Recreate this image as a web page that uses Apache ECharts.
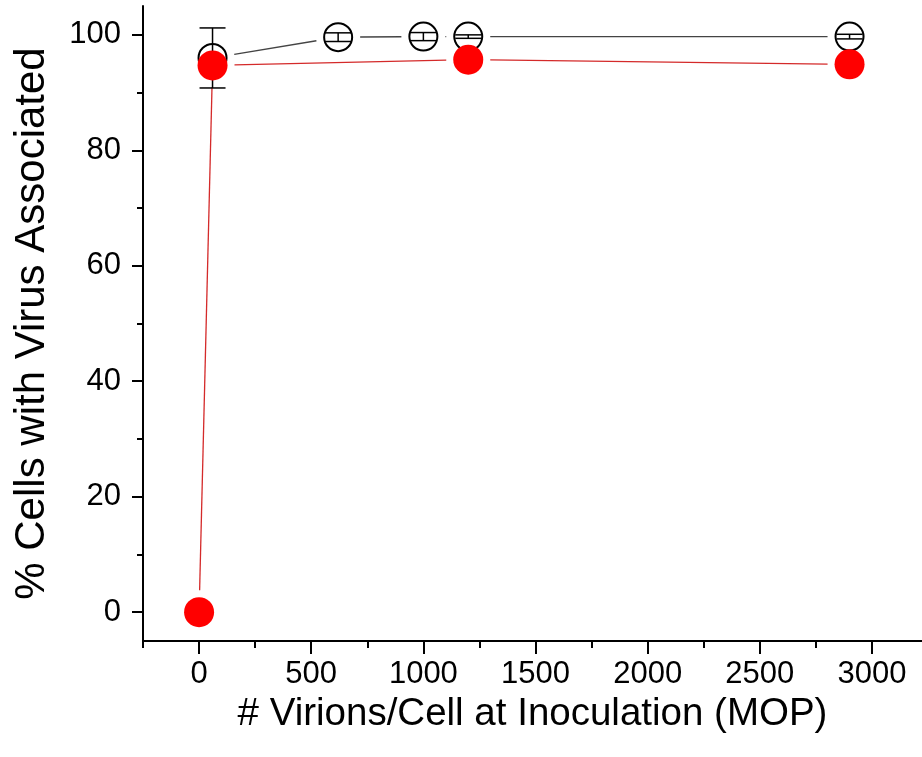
<!DOCTYPE html>
<html>
<head>
<meta charset="utf-8">
<script src="https://cdn.jsdelivr.net/npm/echarts@6/dist/echarts.min.js"></script>
<style>
html,body{margin:0;padding:0;background:#fff;}
#main{width:922px;height:757px;}
</style>
</head>
<body>
<div id="main"></div>
<script>
// ---- data ----
const openX = [60, 620, 1000, 1200, 2900];
const openY = [96.0, 99.6, 99.7, 99.7, 99.7];
const openErr = [5.2, 0.75, 0.7, 0.3, 0.4];
const redX = [0, 60, 1200, 2900];
const redY = [0, 94.7, 95.7, 94.9];
const xMajorTicks = [0, 500, 1000, 1500, 2000, 2500, 3000];
const xMinorTicks = [-250, 250, 750, 1250, 1750, 2250, 2750, 3250];
const yMajorTicks = [0, 20, 40, 60, 80, 100];
const yMinorTicks = [10, 30, 50, 70, 90];
const xTitle = '# Virions/Cell at Inoculation (MOP)';
const yTitle = '% Cells with Virus Associated';

const FONT = '"Liberation Sans", Arial, sans-serif';
const GAP = 22;

function segs(xs, ys) {
  const out = [];
  for (let i = 0; i < xs.length - 1; i++) out.push([xs[i], ys[i], xs[i + 1], ys[i + 1]]);
  return out;
}

function segRender(color) {
  return function (params, api) {
    const p1 = api.coord([api.value(0), api.value(1)]);
    const p2 = api.coord([api.value(2), api.value(3)]);
    const dx = p2[0] - p1[0], dy = p2[1] - p1[1];
    const len = Math.sqrt(dx * dx + dy * dy);
    if (len <= 2 * GAP) return null;
    const ux = dx / len, uy = dy / len;
    return {
      type: 'line',
      shape: {
        x1: p1[0] + ux * GAP, y1: p1[1] + uy * GAP,
        x2: p2[0] - ux * GAP, y2: p2[1] - uy * GAP
      },
      style: { stroke: color, lineWidth: 1.3 }
    };
  };
}

const chart = echarts.init(document.getElementById('main'), null, { renderer: 'canvas' });

const baseX = {
  type: 'value', min: -250, max: 3223, position: 'bottom',
  splitLine: { show: false }
};
const baseY = {
  type: 'value', min: -5, max: 105, position: 'left',
  splitLine: { show: false }
};
const plain = v => String(v);

chart.setOption({
  animation: false,
  backgroundColor: '#fff',
  grid: { left: 143, right: 0, top: 6, bottom: 116, containLabel: false, outerBoundsMode: 'none' },
  xAxis: [
    Object.assign({}, baseX, {
      name: xTitle, nameLocation: 'middle', nameGap: 48,
      nameTextStyle: { fontFamily: FONT, fontSize: 38.5, color: '#000' },
      axisLine: { show: true, onZero: false, lineStyle: { color: '#000', width: 2 } },
      axisTick: { show: true, inside: false, length: 13, customValues: xMajorTicks, lineStyle: { color: '#000', width: 2 } },
      axisLabel: { show: true, customValues: xMajorTicks, formatter: plain, margin: 18, fontFamily: FONT, fontSize: 31, color: '#000' }
    }),
    Object.assign({}, baseX, {
      axisLine: { show: false, onZero: false },
      axisTick: { show: true, inside: false, length: 7, customValues: xMinorTicks, lineStyle: { color: '#000', width: 2 } },
      axisLabel: { show: false }
    })
  ],
  yAxis: [
    Object.assign({}, baseY, {
      name: yTitle, nameLocation: 'middle', nameGap: 90,
      nameTextStyle: { fontFamily: FONT, fontSize: 42, color: '#000' },
      axisLine: { show: true, onZero: false, lineStyle: { color: '#000', width: 2 } },
      axisTick: { show: true, inside: false, length: 11, customValues: yMajorTicks, lineStyle: { color: '#000', width: 2 } },
      axisLabel: { show: true, customValues: yMajorTicks, formatter: plain, margin: 22, fontFamily: FONT, fontSize: 31, color: '#000' }
    }),
    Object.assign({}, baseY, {
      axisLine: { show: false, onZero: false },
      axisTick: { show: true, inside: false, length: 6, customValues: yMinorTicks, lineStyle: { color: '#000', width: 2 } },
      axisLabel: { show: false }
    })
  ],
  series: [
    {
      name: 'redLine', type: 'custom', xAxisIndex: 0, yAxisIndex: 0,
      data: segs(redX, redY),
      encode: { x: [0, 2], y: [1, 3] },
      renderItem: segRender('#d42a2a'),
      clip: false, silent: true
    },
    {
      name: 'openLine', type: 'custom', xAxisIndex: 0, yAxisIndex: 0,
      data: segs(openX, openY),
      encode: { x: [0, 2], y: [1, 3] },
      renderItem: segRender('#444'),
      clip: false, silent: true
    },
    {
      name: 'open', type: 'scatter', xAxisIndex: 0, yAxisIndex: 0,
      data: openX.map((x, i) => [x, openY[i]]),
      symbol: 'circle', symbolSize: 28,
      itemStyle: { color: 'rgba(255,255,255,0)', borderColor: '#000', borderWidth: 2, opacity: 1 },
      clip: false, silent: true
    },
    {
      name: 'errors', type: 'custom', xAxisIndex: 0, yAxisIndex: 0,
      data: openX.map((x, i) => [x, openY[i] - openErr[i], openY[i] + openErr[i]]),
      encode: { x: 0, y: [1, 2] },
      renderItem: function (params, api) {
        const lo = api.coord([api.value(0), api.value(1)]);
        const hi = api.coord([api.value(0), api.value(2)]);
        const hw = 13;
        const st = { stroke: '#000', lineWidth: 1.5 };
        return {
          type: 'group',
          children: [
            { type: 'line', shape: { x1: lo[0], y1: lo[1], x2: hi[0], y2: hi[1] }, style: st },
            { type: 'line', shape: { x1: lo[0] - hw, y1: lo[1], x2: lo[0] + hw, y2: lo[1] }, style: st },
            { type: 'line', shape: { x1: hi[0] - hw, y1: hi[1], x2: hi[0] + hw, y2: hi[1] }, style: st }
          ]
        };
      },
      clip: false, silent: true
    },
    {
      name: 'red', type: 'scatter', xAxisIndex: 0, yAxisIndex: 0,
      data: redX.map((x, i) => [x, redY[i]]),
      symbol: 'circle', symbolSize: 30,
      itemStyle: { color: '#ff0000', opacity: 1 },
      clip: false, silent: true
    }
  ]
});
</script>
</body>
</html>
